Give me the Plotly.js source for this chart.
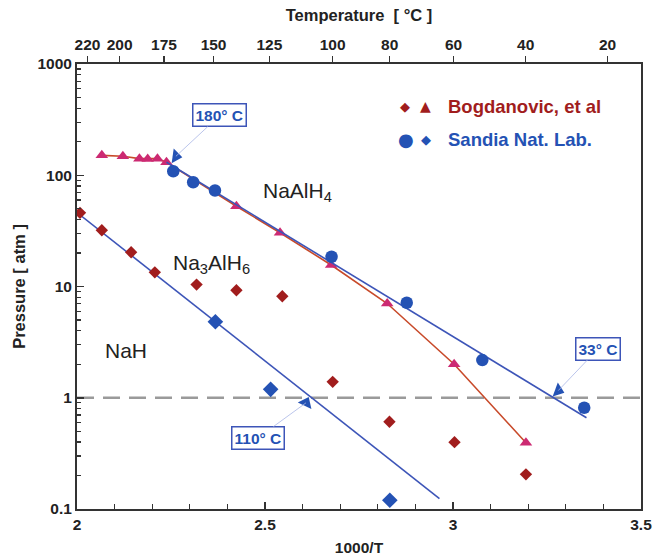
<!DOCTYPE html>
<html>
<head>
<meta charset="utf-8">
<script src="https://cdn.plot.ly/plotly-3.0.1.min.js"></script>
<style>html,body{margin:0;padding:0;background:#fff;}#chart{width:653px;height:556px;}</style>
</head>
<body>
<div id="chart"></div>
<script>
// ---- data ----
var bogTriX = [2.066, 2.122, 2.166, 2.188, 2.214, 2.238, 2.424, 2.540, 2.676, 2.825, 3.003, 3.194];
var bogTriY = [151, 148, 141, 140, 141, 131, 52.6, 30.4, 15.6, 7.03, 2.0, 0.394];

var bogDiaX = [2.008, 2.066, 2.144, 2.207, 2.318, 2.424, 2.546, 2.680, 2.831, 3.004, 3.194];
var bogDiaY = [45.9, 32, 20.3, 13.4, 10.4, 9.26, 8.18, 1.39, 0.609, 0.399, 0.205];

var sandCircX = [2.256, 2.309, 2.367, 2.677, 2.877, 3.078, 3.349];
var sandCircY = [108.6, 86.5, 72.9, 18.5, 7.14, 2.18, 0.813];

var sandDiaX = [2.368, 2.515, 2.832];
var sandDiaY = [4.82, 1.19, 0.12];

var fitAlanateX = [2.238, 3.355];
var fitAlanateY = [131, 0.661];
var fitHexX = [2.0, 2.964];
var fitHexY = [46.2, 0.124];

var xRange = [2, 3.5];
var refPressure = 1;

var tempLabels = [220, 200, 175, 150, 125, 100, 80, 60, 40, 20];
var bottomTicks = [2, 2.5, 3, 3.5];

var markLabels = ["180° C", "110° C", "33° C"];
var markX = [2.263, 2.609, 3.280];
var markY = [148, 0.90, 1.16];

// ---- styles ----
var BLUE = '#2452b4';
var LINEBLUE = '#3d55b8';
var DARKRED = '#a11d1d';
var PINK = '#cc2a72';
var REDLINE = '#c84a2a';
var FONT = 'Liberation Sans, Arial, sans-serif';

var markSymbols = ['triangle-right', 'triangle-up', 'triangle-right'];
var markAngles = [8, 25, 20];

var traces = [
  {x: xRange, y: [refPressure, refPressure], mode: 'lines', line: {color: '#9a9a9a', width: 2.5, dash: '17px,9px'}},
  {x: fitHexX, y: fitHexY, mode: 'lines', line: {color: LINEBLUE, width: 1.6}},
  {x: bogDiaX, y: bogDiaY, mode: 'markers', marker: {symbol: 'diamond', size: 9.5, color: DARKRED}},
  {x: bogTriX, y: bogTriY, mode: 'lines+markers', line: {color: REDLINE, width: 1.6},
   marker: {symbol: 'triangle-up', size: 11, color: PINK}},
  {x: fitAlanateX, y: fitAlanateY, mode: 'lines', line: {color: LINEBLUE, width: 1.6}},
  {x: sandCircX, y: sandCircY, mode: 'markers', marker: {symbol: 'circle', size: 12.5, color: BLUE}},
  {x: sandDiaX, y: sandDiaY, mode: 'markers', marker: {symbol: 'diamond', size: 12, color: BLUE}}
];
markX.forEach(function (mx, i) {
  traces.push({x: [mx], y: [markY[i]], mode: 'markers',
    marker: {symbol: markSymbols[i], angle: markAngles[i], size: 13, color: BLUE}});
});
// invisible trace to activate the top axis
traces.push({x: xRange, y: [refPressure, refPressure], xaxis: 'x2', mode: 'markers', marker: {opacity: 0}, hoverinfo: 'skip'});

var annOffsets = [[44, -41], [-48, 35], [40, -42]];
var annotations = markLabels.map(function (t, i) {
  return {
    x: markX[i], y: Math.log10(markY[i]), xref: 'x', yref: 'y',
    text: '<b>' + t + '</b>', showarrow: true, arrowhead: 0, arrowwidth: 0.8,
    arrowcolor: '#a9b6e6', ax: annOffsets[i][0], ay: annOffsets[i][1],
    font: {family: FONT, size: 15.5, color: BLUE},
    bordercolor: LINEBLUE, borderwidth: 1.5, borderpad: 2, bgcolor: '#fff'
  };
});

function px2paperX(p) { return (p - 77) / 564; }
function px2paperY(p) { return (509 - p) / 445; }
function label(px, py, text, font, xanchor) {
  return {xref: 'paper', yref: 'paper', x: px2paperX(px), y: px2paperY(py), text: text, showarrow: false,
    xanchor: xanchor || 'center', yanchor: 'middle', font: font};
}
var phaseFont = {family: FONT, size: 21, color: '#222'};

annotations.push(
  label(297, 192, 'NaAlH<sub>4</sub>', phaseFont),
  label(211, 264, 'Na<sub>3</sub>AlH<sub>6</sub>', phaseFont),
  label(126, 350, 'NaH', phaseFont),
  // legend
  label(405, 107, '◆', {family: 'DejaVu Sans', size: 13, color: DARKRED}),
  label(425, 106, '▲', {family: 'DejaVu Sans', size: 14, color: DARKRED}),
  label(446, 107, '<b>Bogdanovic, et al</b>', {family: FONT, size: 18.5, color: DARKRED}, 'left'),
  label(406, 139, '●', {family: 'DejaVu Sans', size: 18, color: BLUE}),
  label(426, 139, '◆', {family: 'DejaVu Sans', size: 13, color: BLUE}),
  label(446, 139, '<b>Sandia Nat. Lab.</b>', {family: FONT, size: 18.5, color: BLUE}, 'left')
);

var layout = {
  width: 653, height: 556,
  margin: {l: 77, r: 12, t: 64, b: 47},
  paper_bgcolor: '#fff', plot_bgcolor: '#fff',
  showlegend: false,
  font: {family: FONT, color: '#222'},
  xaxis: {
    range: xRange, tickvals: bottomTicks, ticktext: bottomTicks.map(String),
    ticks: 'inside', ticklen: 7, tickwidth: 1.5, tickcolor: '#333',
    minor: {dtick: 0.1, ticks: 'inside', ticklen: 5, tickwidth: 1.2, tickcolor: '#333'},
    showline: true, linecolor: '#333', linewidth: 2, showgrid: false, zeroline: false,
    tickfont: {family: FONT, size: 15.5, color: '#222', weight: 'bold'},
    title: {text: '<b>1000/T</b>', font: {family: FONT, size: 15.5, color: '#222'}, standoff: 12}
  },
  xaxis2: {
    overlaying: 'x', side: 'top', range: xRange,
    tickvals: tempLabels.map(function (t) { return 1000 / (t + 273.15); }),
    ticktext: tempLabels.map(String),
    ticks: 'outside', ticklen: 6, tickwidth: 1.5, tickcolor: '#333',
    showline: true, linecolor: '#333', linewidth: 2, showgrid: false, zeroline: false,
    tickfont: {family: FONT, size: 15.5, color: '#222', weight: 'bold'},
    title: {text: '<b>Temperature  [ °C ]</b>', font: {family: FONT, size: 16.5, color: '#222'}, standoff: 10}
  },
  yaxis: {
    type: 'log', range: [-1, 3], dtick: 1, exponentformat: 'none',
    ticks: 'inside', ticklen: 7, tickwidth: 1.5, tickcolor: '#333',
    minor: {dtick: 'D1', ticks: 'inside', ticklen: 4, tickwidth: 1.2, tickcolor: '#333'},
    showline: true, linecolor: '#333', linewidth: 2, mirror: true, showgrid: false, zeroline: false,
    tickfont: {family: FONT, size: 15.5, color: '#222', weight: 'bold'},
    title: {text: '<b>Pressure [ atm ]</b>', font: {family: FONT, size: 16.5, color: '#222'}, standoff: 8}
  },
  annotations: annotations
};

Plotly.newPlot('chart', traces, layout, {displayModeBar: false, staticPlot: true});
</script>
</body>
</html>
